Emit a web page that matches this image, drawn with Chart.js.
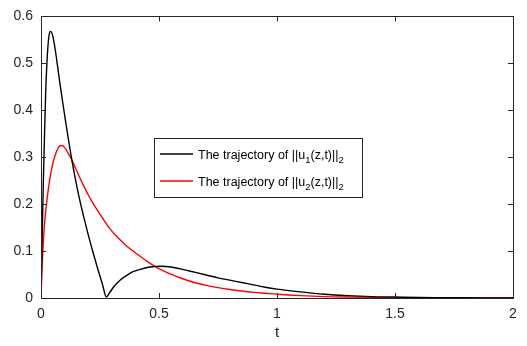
<!DOCTYPE html>
<html>
<head>
<meta charset="utf-8">
<script src="https://cdn.jsdelivr.net/npm/chart.js@4"></script>
<style>
html,body{margin:0;padding:0;background:#fff;}
#wrap{width:527px;height:346px;position:relative;}
</style>
</head>
<body>
<div id="wrap"><canvas id="c" width="527" height="346"></canvas></div>
<script>
const tValues = [0, 0.005, 0.01, 0.015, 0.02, 0.025, 0.03, 0.035, 0.041, 0.05, 0.06, 0.07, 0.08, 0.09, 0.1, 0.11, 0.12, 0.13, 0.14, 0.16, 0.18, 0.2, 0.22, 0.24, 0.26, 0.277, 0.29, 0.31, 0.335, 0.36, 0.39, 0.42, 0.45, 0.48, 0.51, 0.55, 0.6, 0.65, 0.7, 0.75, 0.8, 0.85, 0.9, 0.95, 1.0, 1.1, 1.2, 1.3, 1.4, 1.5, 1.6, 1.7, 1.8, 1.9, 2.0];
const u1Norm = [0, 0.13, 0.25, 0.35, 0.44, 0.50, 0.54, 0.562, 0.568, 0.558, 0.53, 0.495, 0.458, 0.423, 0.39, 0.358, 0.326, 0.296, 0.268, 0.218, 0.175, 0.135, 0.098, 0.063, 0.030, 0.002, 0.011, 0.025, 0.038, 0.047, 0.056, 0.061, 0.065, 0.067, 0.0675, 0.066, 0.061, 0.055, 0.049, 0.043, 0.038, 0.033, 0.028, 0.023, 0.019, 0.013, 0.008, 0.005, 0.003, 0.002, 0.001, 0.0007, 0.0004, 0.0003, 0.0002];
const u2Norm = [0, 0.07, 0.12, 0.158, 0.185, 0.208, 0.228, 0.246, 0.264, 0.286, 0.304, 0.317, 0.324, 0.325, 0.321, 0.313, 0.304, 0.295, 0.284, 0.261, 0.24, 0.22, 0.202, 0.186, 0.171, 0.158, 0.149, 0.137, 0.124, 0.112, 0.100, 0.089, 0.078, 0.068, 0.060, 0.051, 0.041, 0.033, 0.027, 0.022, 0.018, 0.015, 0.012, 0.010, 0.008, 0.005, 0.003, 0.002, 0.0013, 0.0008, 0.0005, 0.0003, 0.0002, 0.0001, 0.0001];
const xTicks = [0, 0.5, 1, 1.5, 2];
const yTicks = [0, 0.1, 0.2, 0.3, 0.4, 0.5, 0.6];
const seriesNames = ['u', 'u'];
const seriesSubs = ['1', '2'];
const seriesColors = ['#000000', '#ff0000'];
const xTitle = 't';

const FONT = '"Liberation Sans", Arial, Helvetica, sans-serif';
const AX = '#262626';

const boxTicks = {
  id: 'boxTicks',
  afterDatasetsDraw(chart) {
    const {ctx, chartArea: a, scales: {x, y}} = chart;
    ctx.save();
    ctx.strokeStyle = AX;
    ctx.lineWidth = 1;
    const L = 5;
    ctx.beginPath();
    xTicks.forEach(v => {
      const px = Math.round(x.getPixelForValue(v)) + 0.5;
      ctx.moveTo(px, a.bottom); ctx.lineTo(px, a.bottom - L);
      ctx.moveTo(px, a.top); ctx.lineTo(px, a.top + L);
    });
    yTicks.forEach(v => {
      const py = Math.round(y.getPixelForValue(v)) + 0.5;
      ctx.moveTo(a.left, py); ctx.lineTo(a.left + L, py);
      ctx.moveTo(a.right, py); ctx.lineTo(a.right - L, py);
    });
    ctx.stroke();
    ctx.strokeRect(Math.round(a.left) + 0.5, Math.round(a.top) + 0.5, Math.round(a.right - a.left), Math.round(a.bottom - a.top));
    ctx.restore();
  },
  afterDraw(chart) {
    const ctx = chart.ctx;
    ctx.save();
    const bx = 154, by = 138, rowH = 27, fs = 12.5, ss = 9.5;
    const parts = i => [
      ['The trajectory of ||' + seriesNames[i], fs, 0],
      [seriesSubs[i], ss, 3.5],
      ['(z,t)||', fs, 0],
      ['2', ss, 3.5]
    ];
    let maxW = 0;
    for (let i = 0; i < 2; i++) {
      let w = 0;
      parts(i).forEach(p => { ctx.font = p[1] + 'px ' + FONT; w += ctx.measureText(p[0]).width; });
      maxW = Math.max(maxW, w);
    }
    const textX = 198;
    const bw = 362 - bx;
    const bh = 59;
    ctx.fillStyle = '#fff';
    ctx.fillRect(bx, by, bw, bh);
    ctx.strokeStyle = AX;
    ctx.lineWidth = 1;
    ctx.strokeRect(bx + 0.5, by + 0.5, bw, bh);
    for (let i = 0; i < 2; i++) {
      const cy = by + 16 + i * rowH;
      ctx.strokeStyle = seriesColors[i];
      ctx.lineWidth = 1.5;
      ctx.beginPath(); ctx.moveTo(160, cy); ctx.lineTo(193, cy); ctx.stroke();
      ctx.fillStyle = '#000';
      ctx.textBaseline = 'alphabetic';
      let xx = textX;
      parts(i).forEach(p => {
        ctx.font = p[1] + 'px ' + FONT;
        ctx.fillText(p[0], xx, cy + 5 + p[2]);
        xx += ctx.measureText(p[0]).width;
      });
    }
    ctx.restore();
  }
};

new Chart(document.getElementById('c'), {
  type: 'line',
  data: {
    datasets: [
      { data: tValues.map((t, i) => ({x: t, y: u1Norm[i]})), borderColor: seriesColors[0], borderWidth: 1.4, pointRadius: 0, cubicInterpolationMode: 'monotone', fill: false },
      { data: tValues.map((t, i) => ({x: t, y: u2Norm[i]})), borderColor: seriesColors[1], borderWidth: 1.4, pointRadius: 0, cubicInterpolationMode: 'monotone', fill: false }
    ]
  },
  options: {
    responsive: false,
    animation: false,
    devicePixelRatio: 1,
    layout: { padding: { left: 0, right: 14, top: 12, bottom: 0 } },
    plugins: { legend: { display: false }, tooltip: { enabled: false } },
    scales: {
      x: {
        type: 'linear', min: 0, max: 2,
        afterBuildTicks: s => { s.ticks = xTicks.map(v => ({value: v})); },
        afterFit: s => { s.height = 48; },
        grid: { display: true, drawOnChartArea: false, drawTicks: false, color: 'rgba(0,0,0,0)' },
        border: { display: false },
        ticks: { color: AX, font: { family: FONT, size: 14 }, padding: 8, maxRotation: 0, callback: v => String(v) },
        title: { display: true, text: xTitle, color: AX, font: { family: FONT, size: 15 }, padding: { top: 0, bottom: 4 } }
      },
      y: {
        type: 'linear', min: 0, max: 0.6,
        afterBuildTicks: s => { s.ticks = yTicks.map(v => ({value: v})); },
        afterFit: s => { s.width = 41; },
        grid: { display: true, drawOnChartArea: false, drawTicks: false, color: 'rgba(0,0,0,0)' },
        border: { display: false },
        ticks: { color: AX, font: { family: FONT, size: 14 }, padding: 8, callback: v => String(v) }
      }
    }
  },
  plugins: [boxTicks]
});
</script>
</body>
</html>
